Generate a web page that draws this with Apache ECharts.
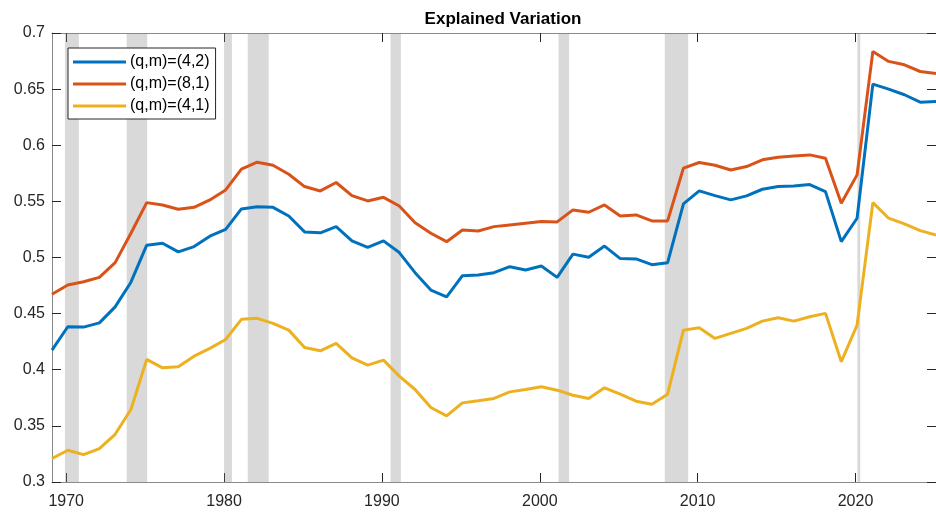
<!DOCTYPE html>
<html>
<head>
<meta charset="utf-8">
<script src="https://cdn.jsdelivr.net/npm/echarts@6/dist/echarts.min.js"></script>
<style>
  html, body { margin: 0; padding: 0; background: #fff; }
  #main { width: 936px; height: 512px; }
</style>
</head>
<body>
<div id="main"></div>
<script>
// years 1969..2025, points sit a little after each year mark
const years = []
for (let y = 1969; y <= 2025; y++) years.push(y)
const xOffset = 0.1

const q4m2 = [0.4175, 0.4383, 0.438, 0.4418, 0.456, 0.478, 0.511, 0.5127, 0.505, 0.5097,
  0.519, 0.525, 0.5433, 0.5453, 0.5447, 0.537, 0.5228, 0.522, 0.5275, 0.5148,
  0.509, 0.5148, 0.5044, 0.4865, 0.471, 0.465, 0.4838, 0.4844, 0.4865, 0.4918,
  0.4889, 0.4924, 0.4823, 0.503, 0.5002, 0.5102, 0.499, 0.4987, 0.4936, 0.4954,
  0.5477, 0.5593, 0.5551, 0.5513, 0.5549, 0.5608, 0.5632, 0.5638, 0.565, 0.5587,
  0.5141, 0.535, 0.6545, 0.65, 0.645, 0.6384, 0.639]

const q8m1 = [0.4672, 0.4755, 0.4784, 0.4823, 0.4954, 0.5216, 0.5489, 0.5468, 0.543, 0.5447,
  0.5513, 0.5602, 0.5787, 0.5849, 0.5822, 0.5742, 0.5632, 0.5593, 0.5668, 0.5551,
  0.5504, 0.5536, 0.5459, 0.531, 0.5216, 0.5141, 0.5245, 0.5236, 0.5275, 0.529,
  0.5305, 0.532, 0.5317, 0.5424, 0.5403, 0.5468, 0.537, 0.5379, 0.5326, 0.5326,
  0.5796, 0.5846, 0.5822, 0.578, 0.581, 0.587, 0.5894, 0.5905, 0.5914, 0.5885,
  0.5483, 0.5736, 0.6836, 0.6747, 0.6717, 0.6657, 0.664]

const q4m1 = [0.3209, 0.3283, 0.3244, 0.3298, 0.3425, 0.3646, 0.4092, 0.4017, 0.4026, 0.4121,
  0.419, 0.427, 0.4449, 0.4458, 0.4413, 0.4353, 0.4199, 0.4169, 0.4235, 0.4106,
  0.4041, 0.4086, 0.3943, 0.3824, 0.3664, 0.3589, 0.3705, 0.3723, 0.3744, 0.3803,
  0.3824, 0.3848, 0.3818, 0.3773, 0.3744, 0.3839, 0.3782, 0.372, 0.3693, 0.3782,
  0.4353, 0.4374, 0.4279, 0.4324, 0.4368, 0.4433, 0.4463, 0.4433, 0.4472, 0.4502,
  0.4071, 0.4398, 0.5489, 0.535, 0.5299, 0.5239, 0.52]

// NBER recessions (shaded)
const recStart = [1969.92, 1973.83, 1980.0, 1981.5, 1990.55, 2001.19, 2007.92, 2020.12]
const recEnd = [1970.8, 1975.13, 1980.5, 1982.83, 1991.2, 2001.86, 2009.4, 2020.3]

const xTicks = [1970, 1980, 1990, 2000, 2010, 2020]
const seriesNames = ['(q,m)=(4,2)', '(q,m)=(8,1)', '(q,m)=(4,1)']
const colors = ['#0072BD', '#D95319', '#EDB120']

const font = '"Liberation Sans", Arial, Helvetica, sans-serif'
const axisGray = '#8a8a8a'

const toPairs = vals => vals.map((v, i) => [years[i] + xOffset, v])

var myChart = echarts.init(document.getElementById('main'))

const xMin = years[0] + xOffset
const xMax = years[years.length - 1] + xOffset

const xAxisBase = {
  type: 'value',
  min: xMin,
  max: xMax,
  axisLine: { show: true, onZero: false, lineStyle: { color: axisGray, width: 1 } },
  axisTick: { show: true, inside: true, length: 9, customValues: xTicks, lineStyle: { color: '#262626' } },
  splitLine: { show: false }
}
const yAxisBase = {
  type: 'value',
  min: 0.3,
  max: 0.7,
  interval: 0.05,
  axisLine: { show: true, onZero: false, lineStyle: { color: axisGray, width: 1 } },
  axisTick: { show: true, inside: true, length: 9, lineStyle: { color: '#262626' } },
  splitLine: { show: false }
}

const lineSeries = seriesNames.map((name, i) => ({
  name: name,
  type: 'line',
  data: toPairs([q4m2, q8m1, q4m1][i]),
  xAxisIndex: 0,
  yAxisIndex: 0,
  showSymbol: false,
  symbol: 'none',
  z: 2,
  lineStyle: { color: colors[i], width: 3 },
  itemStyle: { color: colors[i] }
}))

var option = {
  animation: false,
  backgroundColor: '#fff',
  title: {
    text: 'Explained Variation',
    left: 498,
    textAlign: 'center',
    top: 6,
    textStyle: { fontFamily: font, fontSize: 17, fontWeight: 'bold', color: '#000' }
  },
  legend: {
    data: seriesNames,
    orient: 'vertical',
    left: 68,
    top: 48,
    padding: [6, 6, 5, 5],
    itemGap: 6,
    itemWidth: 53,
    itemHeight: 3,
    icon: 'rect',
    backgroundColor: '#fff',
    borderColor: '#262626',
    borderWidth: 1,
    borderRadius: 0,
    textStyle: { fontFamily: font, fontSize: 16, color: '#000', lineHeight: 16, padding: [0, 0, 0, -1] }
  },
  grid: { left: 52, top: 33, right: -9, bottom: 30 },
  xAxis: [
    Object.assign({}, xAxisBase, {
      position: 'bottom',
      axisLabel: {
        show: true, customValues: xTicks, margin: 12, color: '#262626', fontFamily: font, fontSize: 16,
        formatter: v => String(Math.round(v))
      }
    }),
    Object.assign({}, xAxisBase, {
      position: 'top',
      axisLabel: { show: false }
    })
  ],
  yAxis: [
    Object.assign({}, yAxisBase, {
      position: 'left',
      axisLabel: { show: true, margin: 7, color: '#262626', fontFamily: font, fontSize: 16 }
    }),
    Object.assign({}, yAxisBase, {
      position: 'right',
      axisLabel: { show: false }
    })
  ],
  series: lineSeries.concat([{
    name: 'recessions',
    type: 'line',
    data: [],
    xAxisIndex: 0,
    yAxisIndex: 0,
    z: 3,
    silent: true,
    markArea: {
      silent: true,
      itemStyle: { color: 'rgba(128,128,128,0.3)' },
      data: recStart.map((s, i) => [{ xAxis: s }, { xAxis: recEnd[i] }])
    }
  }])
}

myChart.setOption(option)
</script>
</body>
</html>
